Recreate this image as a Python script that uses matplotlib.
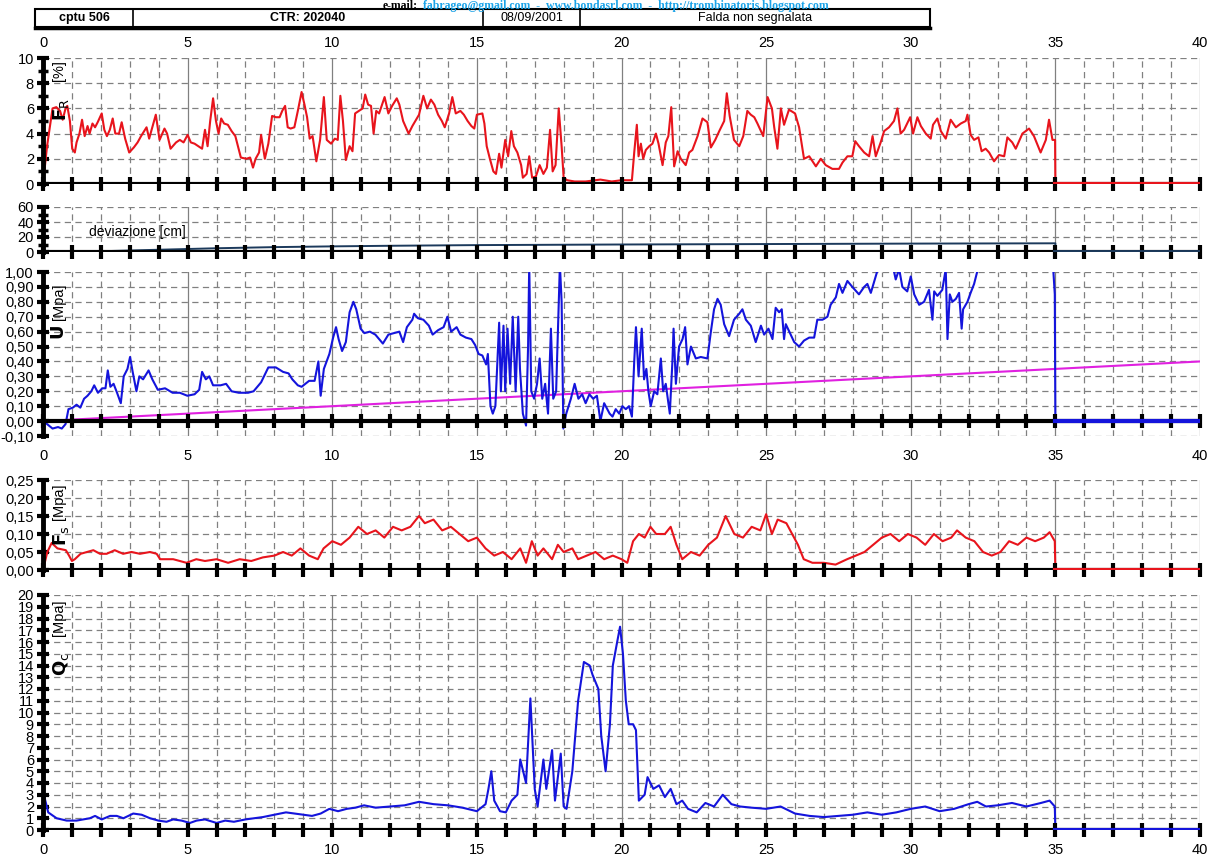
import numpy as np
import matplotlib.pyplot as plt

plt.rcParams['font.family'] = ['Liberation Sans', 'DejaVu Sans']

# ---- data (depth in m) ----
fr_depth = [0, 0.14, 0.33, 0.46, 0.59, 0.68, 0.78, 0.84, 0.93, 1.01, 1.10, 1.16, 1.26, 1.35, 1.44,
            1.54, 1.61, 1.71, 1.80, 1.89, 2.03, 2.12, 2.21, 2.31, 2.41, 2.50, 2.63, 2.72, 2.84, 2.98,
            3.14, 3.27, 3.39, 3.58, 3.67, 3.78, 3.90, 4.03, 4.20, 4.29, 4.41, 4.60, 4.73, 4.86, 5.00,
            5.11, 5.24, 5.37, 5.50, 5.60, 5.69, 5.78, 5.88, 5.98, 6.07, 6.16, 6.26, 6.39, 6.52, 6.65,
            6.84, 7.03, 7.16, 7.26, 7.35, 7.47, 7.54, 7.67, 7.79, 7.92, 8.05, 8.18, 8.27, 8.37, 8.46,
            8.56, 8.69, 8.81, 8.94, 9.04, 9.13, 9.22, 9.32, 9.45, 9.58, 9.71, 9.81, 9.96, 10.09, 10.19,
            10.28, 10.37, 10.47, 10.60, 10.70, 10.79, 10.92, 11.05, 11.14, 11.24, 11.34, 11.43, 11.52,
            11.62, 11.81, 11.94, 12.07, 12.23, 12.32, 12.45, 12.64, 12.77, 12.90, 13.00, 13.15, 13.28,
            13.41, 13.53, 13.66, 13.79, 13.89, 14.04, 14.15, 14.27, 14.43, 14.55, 14.68, 14.81, 14.91,
            15.00, 15.19, 15.26, 15.34, 15.45, 15.57, 15.66, 15.77, 15.85, 15.98, 16.08, 16.19, 16.28,
            16.40, 16.53, 16.59, 16.72, 16.81, 16.91, 17.04, 17.17, 17.30, 17.42, 17.53, 17.62, 17.72,
            17.83, 17.93, 18.00, 18.12, 18.38, 18.76, 19.27, 19.66, 20.00, 20.36, 20.44, 20.53, 20.59,
            20.67, 20.75, 20.84, 20.96, 21.07, 21.19, 21.28, 21.42, 21.53, 21.62, 21.72, 21.82, 21.94,
            22.05, 22.22, 22.34, 22.45, 22.63, 22.80, 22.97, 23.09, 23.24, 23.38, 23.55, 23.64, 23.74,
            23.89, 24.07, 24.21, 24.35, 24.47, 24.59, 24.70, 24.90, 25.05, 25.20, 25.28, 25.39, 25.51,
            25.62, 25.79, 26.00, 26.14, 26.31, 26.49, 26.72, 26.89, 27.06, 27.29, 27.52, 27.64, 27.81,
            27.98, 28.08, 28.21, 28.39, 28.56, 28.68, 28.79, 28.96, 29.08, 29.25, 29.42, 29.54, 29.65,
            29.77, 29.98, 30.08, 30.23, 30.35, 30.52, 30.69, 30.77, 30.92, 31.04, 31.21, 31.38, 31.56,
            31.73, 31.90, 31.96, 32.07, 32.19, 32.34, 32.45, 32.59, 32.71, 32.88, 33.05, 33.23, 33.34,
            33.51, 33.63, 33.86, 34.09, 34.26, 34.49, 34.67, 34.78, 34.90, 34.99, 35.0]
fr_value = [0, 3.0, 6.0, 6.1, 5.8, 5.1, 6.0, 6.2, 5.0, 2.8, 2.5, 3.3, 4.0, 5.1, 3.8,
            4.6, 4.0, 4.8, 4.5, 4.9, 5.6, 4.3, 3.8, 4.3, 5.2, 4.0, 4.0, 4.9, 3.6, 2.5,
            2.9, 3.3, 3.8, 4.5, 3.6, 4.5, 5.5, 3.5, 4.4, 4.0, 2.8, 3.3, 3.5, 3.3, 3.9,
            3.3, 3.2, 3.0, 2.8, 4.3, 3.0, 5.0, 6.8, 5.0, 4.0, 5.2, 4.8, 4.7, 4.2, 3.8,
            2.1, 2.0, 2.1, 1.3, 2.0, 2.5, 3.9, 2.0, 3.2, 5.4, 5.3, 5.3, 5.8, 6.2, 4.5,
            4.4, 4.5, 5.8, 7.3, 6.3, 5.3, 3.6, 3.8, 1.8, 3.5, 6.9, 3.5, 3.2, 3.6, 3.5,
            7.0, 5.0, 1.9, 3.0, 2.6, 5.6, 5.8, 6.0, 7.1, 6.3, 6.2, 4.0, 5.8,
            5.6, 6.9, 5.6, 6.2, 6.8, 6.3, 5.0, 4.0, 4.6, 5.1, 5.5, 7.0, 6.0,
            6.7, 6.3, 5.5, 5.0, 4.5, 5.6, 6.9, 5.6, 5.8, 5.5, 5.0, 4.6, 4.4,
            5.5, 5.6, 4.8, 3.0, 2.0, 1.0, 0.8, 2.4, 1.3, 3.5, 2.2, 4.2, 3.0,
            2.5, 1.5, 0.5, 0.8, 2.2, 0.5, 0.6, 1.5, 0.8, 1.3, 4.3, 1.0, 1.5,
            6.0, 3.0, 0.5, 0.3, 0.2, 0.2, 0.35, 0.2, 0.3, 0.3, 2.5, 4.7, 2.2,
            3.2, 2.0, 2.7, 3.0, 3.2, 4.0, 3.2, 1.5, 3.3, 3.8, 6.1, 1.4, 2.6,
            2.0, 1.5, 2.5, 2.7, 3.8, 5.2, 4.9, 2.9, 3.5, 4.2, 5.0, 7.2, 5.4,
            3.5, 3.0, 3.8, 5.8, 5.5, 5.3, 4.8, 3.8, 6.9, 6.0, 4.5, 2.8, 6.0,
            4.7, 5.9, 5.6, 4.5, 2.0, 2.2, 1.4, 2.0, 1.5, 1.2, 1.2, 1.7, 2.2,
            2.2, 3.4, 3.0, 2.5, 2.2, 3.8, 2.2, 3.3, 4.2, 4.5, 5.0, 6.0, 4.0,
            4.3, 5.3, 4.0, 5.3, 4.6, 4.0, 3.6, 4.7, 5.2, 4.2, 3.6, 5.1, 4.5,
            4.8, 5.0, 5.5, 3.9, 3.5, 3.7, 2.6, 2.8, 2.5, 1.8, 2.3, 2.2, 3.7,
            3.3, 2.8, 4.0, 4.4, 3.8, 2.5, 3.5, 5.1, 3.5, 3.5, 0.0]

dev_depth = [0, 2, 4, 6, 8, 10, 12, 15, 20, 25, 30, 35, 35.0]
dev_value = [0, 1, 3, 5, 6.5, 7.5, 8.3, 9.2, 10.0, 10.6, 11.2, 11.6, 0]

u_depth = [0, 0.14, 0.33, 0.52, 0.65, 0.78, 0.88, 1.03, 1.16, 1.29, 1.42, 1.54, 1.67, 1.77, 1.90,
           2.05, 2.16, 2.24, 2.33, 2.44, 2.56, 2.69, 2.79, 2.92, 3.01, 3.10, 3.23, 3.33, 3.46, 3.65,
           3.78, 3.97, 4.22, 4.48, 4.73, 4.99, 5.24, 5.40, 5.50, 5.63, 5.75, 5.88, 6.14, 6.33, 6.52,
           6.77, 7.09, 7.28, 7.54, 7.79, 8.05, 8.30, 8.49, 8.62, 8.81, 8.94, 9.20, 9.39, 9.52, 9.60,
           9.71, 9.90, 10.03, 10.13, 10.22, 10.34, 10.47, 10.60, 10.73, 10.83, 10.98, 11.11, 11.30,
           11.49, 11.75, 11.94, 12.13, 12.32, 12.45, 12.58, 12.77, 12.83, 12.96, 13.15, 13.34, 13.47,
           13.66, 13.85, 13.98, 14.11, 14.30, 14.43, 14.62, 14.81, 14.94, 15.06, 15.19, 15.32, 15.38,
           15.47, 15.55, 15.64, 15.77, 15.83, 15.92, 15.98, 16.06, 16.15, 16.24, 16.34, 16.43, 16.49,
           16.59, 16.70, 16.77, 16.81, 16.88, 16.98, 17.08, 17.17, 17.26, 17.36, 17.46, 17.56, 17.64,
           17.74, 17.87, 17.93, 17.99, 18.09, 18.25, 18.38, 18.51, 18.64, 18.76, 18.89, 19.02, 19.15,
           19.27, 19.40, 19.59, 19.69, 19.80, 19.92, 20.03, 20.15, 20.26, 20.36, 20.44, 20.50, 20.59,
           20.70, 20.78, 20.86, 20.93, 21.01, 21.13, 21.24, 21.36, 21.44, 21.53, 21.67, 21.76, 21.80,
           21.88, 21.99, 22.11, 22.20, 22.28, 22.40, 22.57, 22.74, 22.97, 23.09, 23.20, 23.32, 23.43,
           23.55, 23.72, 23.89, 24.07, 24.18, 24.30, 24.47, 24.64, 24.82, 24.93, 25.08, 25.22, 25.33,
           25.45, 25.54, 25.62, 25.68, 25.85, 25.97, 26.14, 26.31, 26.49, 26.66, 26.77, 26.95, 27.12,
           27.23, 27.41, 27.52, 27.64, 27.81, 27.98, 28.21, 28.39, 28.50, 28.62, 28.79, 28.91, 29.37,
           29.48, 29.60, 29.71, 29.88, 30.00, 30.12, 30.29, 30.46, 30.63, 30.75, 30.81, 30.92, 31.09,
           31.21, 31.27, 31.35, 31.44, 31.56, 31.67, 31.76, 31.81, 31.96, 32.07, 32.19, 32.36, 33.0,
           34.0, 34.9, 34.98, 35.0]
u_value = [0.0, -0.02, -0.05, -0.04, -0.05, -0.02, 0.08, 0.09, 0.11, 0.09, 0.15, 0.17, 0.20, 0.24, 0.19,
           0.22, 0.22, 0.34, 0.23, 0.25, 0.19, 0.12, 0.30, 0.35, 0.43, 0.33, 0.20, 0.30, 0.28, 0.34,
           0.28, 0.21, 0.22, 0.19, 0.19, 0.17, 0.18, 0.21, 0.33, 0.28, 0.30, 0.24, 0.24, 0.25, 0.20,
           0.19, 0.19, 0.20, 0.26, 0.36, 0.36, 0.33, 0.32, 0.28, 0.24, 0.23, 0.27, 0.27, 0.40, 0.17,
           0.35, 0.45, 0.56, 0.63, 0.55, 0.47, 0.53, 0.73, 0.80, 0.75, 0.62, 0.59, 0.60,
           0.58, 0.52, 0.58, 0.59, 0.60, 0.53, 0.63, 0.68, 0.72, 0.69, 0.68, 0.64, 0.58,
           0.61, 0.63, 0.70, 0.60, 0.63, 0.58, 0.56, 0.55, 0.51, 0.45, 0.44, 0.38, 0.45,
           0.10, 0.05, 0.10, 0.66, 0.20, 0.64, 0.20, 0.62, 0.25, 0.70, 0.20, 0.70, 0.35,
           0.05, -0.03, 0.50, 1.05, 0.20, 0.15, 0.25, 0.42, 0.15, 0.25, 0.05, 0.62, 0.15,
           0.20, 1.05, 0.80, -0.05, 0.05, 0.15, 0.25, 0.15, 0.18, 0.12, 0.18, 0.15, 0.17,
           0.0, 0.12, 0.05, 0.03, 0.08, 0.05, 0.10, 0.08, 0.10, 0.03, 0.40, 0.63, 0.30,
           0.62, 0.28, 0.35, 0.20, 0.10, 0.20, 0.18, 0.42, 0.20, 0.25, 0.05, 0.40, 0.62,
           0.25, 0.50, 0.55, 0.63, 0.38, 0.50, 0.42, 0.43, 0.42, 0.60, 0.75, 0.82, 0.78,
           0.65, 0.57, 0.68, 0.72, 0.75, 0.68, 0.64, 0.53, 0.64, 0.58, 0.62, 0.55, 0.76,
           0.73, 0.75, 0.55, 0.65, 0.58, 0.53, 0.50, 0.54, 0.56, 0.56, 0.68, 0.68, 0.70,
           0.78, 0.83, 0.92, 0.86, 0.94, 0.90, 0.85, 0.90, 0.92, 0.86, 0.97, 1.05, 1.05,
           0.95, 1.02, 0.90, 0.87, 0.97, 0.85, 0.78, 0.80, 0.88, 0.68, 0.87, 0.84, 0.88,
           1.02, 0.55, 0.85, 0.80, 0.82, 0.86, 0.62, 0.75, 0.80, 0.86, 0.92, 1.05, 1.1,
           1.1, 1.1, 0.85, 0.0]

# hydrostatic reference line
u0_depth = [0, 40]
u0_value = [0.0, 0.40]

fs_depth = [0, 0.15, 0.3, 0.5, 0.79, 0.9, 1.0, 1.1, 1.3, 1.74, 1.97, 2.2, 2.48, 2.77, 3.06, 3.35,
            3.7, 3.93, 4.05, 4.5, 4.96, 5.3, 5.6, 6.0, 6.4, 6.8, 7.2, 7.6, 8.0, 8.3, 8.6,
            8.9, 9.2, 9.5, 9.7, 10.0, 10.3, 10.6, 10.9, 11.2, 11.5, 11.8, 12.1, 12.4, 12.7, 13.0,
            13.2, 13.5, 13.8, 14.1, 14.4, 14.7, 15.0, 15.3, 15.6, 15.9, 16.2, 16.5, 16.7, 16.9,
            17.1, 17.3, 17.6, 17.8, 18.0, 18.3, 18.5, 18.8, 19.1, 19.4, 19.7, 20.0, 20.2, 20.4,
            20.6, 20.8, 21.0, 21.2, 21.5, 21.7, 21.9, 22.1, 22.4, 22.7, 23.0, 23.3, 23.6, 23.9,
            24.2, 24.5, 24.8, 25.0, 25.2, 25.4, 25.7, 25.9, 26.1, 26.3, 26.6, 27.0, 27.4, 27.8,
            28.1, 28.4, 28.7, 29.0, 29.3, 29.6, 29.9, 30.2, 30.5, 30.8, 31.1, 31.4, 31.6, 31.9,
            32.2, 32.5, 32.8, 33.1, 33.4, 33.7, 34.0, 34.3, 34.6, 34.8, 34.98, 35.0]
fs_value = [0, 0.05, 0.075, 0.06, 0.055, 0.04, 0.025, 0.03, 0.045, 0.055, 0.045, 0.045, 0.055,
            0.045, 0.05, 0.045, 0.05, 0.045, 0.03, 0.03, 0.02, 0.03, 0.025, 0.03,
            0.02, 0.03, 0.025, 0.035, 0.04, 0.05, 0.04, 0.06, 0.04, 0.03, 0.06, 0.08, 0.07, 0.09,
            0.12, 0.10, 0.11, 0.09, 0.12, 0.11, 0.12, 0.15, 0.13, 0.14, 0.11, 0.12, 0.10, 0.08,
            0.09, 0.06, 0.04, 0.05, 0.03, 0.06, 0.02, 0.08, 0.04, 0.06, 0.03, 0.07, 0.05, 0.06,
            0.03, 0.04, 0.05, 0.03, 0.04, 0.03, 0.02, 0.08, 0.10, 0.09, 0.12, 0.10, 0.10, 0.12,
            0.07, 0.03, 0.05, 0.04, 0.07, 0.09, 0.15, 0.10, 0.09, 0.12, 0.11, 0.155, 0.10, 0.14,
            0.13, 0.10, 0.07, 0.03, 0.02, 0.02, 0.015, 0.03, 0.04, 0.05, 0.07, 0.09, 0.10, 0.08,
            0.10, 0.09, 0.07, 0.10, 0.08, 0.09, 0.11, 0.09, 0.08, 0.05, 0.04, 0.05, 0.08, 0.07,
            0.09, 0.08, 0.09, 0.105, 0.08, 0.0]

qc_depth = [0, 0.05, 0.18, 0.47, 0.82, 1.16, 1.39, 1.62, 1.8, 2.03, 2.32, 2.55, 2.78, 3.12, 3.41,
            3.7, 3.99, 4.27, 4.5, 4.79, 5.08, 5.31, 5.6, 6.0, 6.3, 6.6, 7.0, 7.3, 7.6, 8.0, 8.4,
            8.7, 9.0, 9.3, 9.6, 9.9, 10.2, 10.5, 10.8, 11.1, 11.5, 12.0, 12.5, 13.0, 13.5, 14.0,
            14.5, 15.0, 15.3, 15.4, 15.5, 15.6, 15.8, 16.0, 16.2, 16.4, 16.5, 16.7, 16.85, 17.0,
            17.1, 17.3, 17.4, 17.6, 17.7, 17.9, 18.0, 18.1, 18.3, 18.5, 18.7, 18.9, 19.0, 19.2,
            19.3, 19.45, 19.6, 19.7, 19.85, 19.95, 20.05, 20.15, 20.25, 20.4, 20.5, 20.6, 20.8,
            20.9, 21.1, 21.3, 21.5, 21.7, 21.9, 22.1, 22.3, 22.6, 22.9, 23.2, 23.5, 23.8, 24.1,
            24.5, 25.0, 25.5, 26.0, 26.5, 27.0, 27.5, 28.0, 28.5, 29.0, 29.5, 30.0, 30.5, 31.0,
            31.5, 32.0, 32.3, 32.6, 33.0, 33.5, 34.0, 34.5, 34.8, 34.98, 35.0]
qc_value = [2.0, 2.8, 1.5, 1.0, 0.8, 0.8, 0.9, 1.0, 1.2, 0.9, 1.2, 1.2, 1.0, 1.4, 1.3,
            1.0, 0.8, 0.7, 0.9, 0.8, 0.6, 0.8, 0.9, 0.6, 0.8, 0.7, 0.9, 1.0, 1.1, 1.3, 1.5,
            1.4, 1.3, 1.2, 1.4, 1.8, 1.6, 1.8, 1.9, 2.1, 1.9, 2.0, 2.1, 2.4, 2.2, 2.1,
            1.9, 1.6, 2.2, 3.5, 5.0, 2.5, 1.6, 1.5, 2.5, 3.0, 6.0, 4.0, 11.2, 3.5,
            2.0, 6.0, 3.5, 6.8, 2.5, 6.5, 2.0, 1.8, 5.0, 11.0, 14.3, 14.0, 13.2, 12.0,
            8.0, 5.0, 9.0, 14.0, 16.0, 17.3, 15.0, 11.0, 9.0, 9.0, 8.5, 2.5, 3.0,
            4.5, 3.5, 3.8, 2.8, 3.5, 2.2, 2.5, 1.8, 1.5, 2.3, 2.0, 3.0, 2.2, 2.0,
            1.9, 1.8, 2.0, 1.4, 1.2, 1.1, 1.2, 1.3, 1.5, 1.3, 1.5, 1.8, 2.0, 1.6,
            1.8, 2.2, 2.4, 2.0, 2.1, 2.3, 2.0, 2.3, 2.5, 2.0, 0.0]

# below the end of the test everything is flat at zero
tail_depth = [35, 40]
tail_value = [0, 0]

RED = '#e8141c'
BLUE = '#1414dc'
NAVY = '#1c3a5c'
MAGENTA = '#e020e0'
GRID = '#808080'

fig = plt.figure(figsize=(12.15, 8.58), dpi=100)
W, H = 1215.0, 858.0


def px_axes(top, bottom):
    return fig.add_axes([43 / W, 1 - bottom / H, (1200 - 43) / W, (bottom - top) / H])


def setup(ax, ymin, ymax, ystep, minor=None, fmt='{:g}', axis_y=0.0):
    ax.set_xlim(0, 40)
    ax.set_ylim(ymin, ymax)
    for s in ['top', 'right', 'bottom']:
        ax.spines[s].set_visible(False)
    ax.spines['left'].set_linewidth(3.5)
    ax.spines['left'].set_zorder(6)
    for d in range(41):
        if d % 5 == 0:
            ax.axvline(d, color=GRID, lw=0.9, zorder=0)
        else:
            ax.axvline(d, color=GRID, lw=0.9, ls=(0, (5, 3.5)), zorder=0)
    yt = np.round(np.arange(ymin, ymax + ystep / 2, ystep), 4)
    for y in yt:
        ax.axhline(y, color=GRID, lw=0.9, ls=(0, (5, 3.5)), zorder=0)
    ax.set_yticks(yt)
    ax.set_yticklabels([fmt.format(v).replace('.', ',') for v in yt])
    if minor is not None:
        ax.set_yticks(np.arange(ymin, ymax + minor / 2, minor), minor=True)
    ax.tick_params(axis='y', which='both', direction='inout', length=9, width=3, labelsize=10.5, pad=2)
    ax.tick_params(axis='y', which='minor', length=7, width=2.5)
    # black depth axis with a tick at every metre
    ax.axhline(axis_y, color='k', lw=3, zorder=4)
    ticks = np.arange(41)
    ax.plot(ticks, np.full(41, axis_y), ls='none', marker='|', ms=10, mew=3, color='k', zorder=5,
            clip_on=False)
    ax.set_xticks(np.arange(0, 41, 5))
    ax.tick_params(axis='x', length=0, labelsize=10.5, labelbottom=False)


LW = 1.5

# FR panel
ax1 = px_axes(58, 184)
setup(ax1, 0, 10, 2, minor=1)
ax1.plot(fr_depth, fr_value, color=RED, lw=LW, zorder=3)
ax1.plot(tail_depth, tail_value, color=RED, lw=3, zorder=5)
ax1.tick_params(axis='x', labeltop=True, pad=6)

# deviation panel
ax2 = px_axes(207, 252)
setup(ax2, 0, 60, 20, minor=10)
ax2.plot(dev_depth, dev_value, color=NAVY, lw=1.4, zorder=3)
ax2.plot(tail_depth, tail_value, color=NAVY, lw=3.5, zorder=5)
ax2.text(1.6, 27, 'deviazione [cm]', fontsize=10, ha='left', va='center', zorder=3)

# U panel
ax3 = px_axes(272, 436)
setup(ax3, -0.10, 1.00, 0.10, fmt='{:.2f}', axis_y=0.0)
ax3.plot(u0_depth, u0_value, color=MAGENTA, lw=LW, zorder=3)
ax3.plot(u_depth, u_value, color=BLUE, lw=LW, zorder=3)
ax3.plot(tail_depth, tail_value, color=BLUE, lw=3, zorder=5)
ax3.tick_params(axis='x', labelbottom=True, pad=9)

# Fs panel
ax4 = px_axes(480, 570)
setup(ax4, 0, 0.25, 0.05, fmt='{:.2f}')
ax4.plot(fs_depth, fs_value, color=RED, lw=LW, zorder=3)
ax4.plot(tail_depth, tail_value, color=RED, lw=3, zorder=5)

# Qc panel
ax5 = px_axes(595, 830)
setup(ax5, 0, 20, 1)
ax5.plot(qc_depth, qc_value, color=BLUE, lw=LW, zorder=3)
ax5.plot(tail_depth, tail_value, color=BLUE, lw=3, zorder=5)
ax5.tick_params(axis='x', labelbottom=True, pad=9)


# rotated axis titles inside the panels
def axis_title(main, sub, unit, top_px, gap_px):
    y_unit = 1 - top_px / H
    fig.text(52 / W, y_unit, unit, rotation=90, fontsize=10.5, ha='left', va='top')
    label = r'$\mathbf{%s}_{\mathrm{%s}}$' % (main, sub) if sub else r'$\mathbf{%s}$' % main
    fig.text(51 / W, y_unit - gap_px / H, label, rotation=90, fontsize=13, ha='left', va='top')


axis_title('F', 'R', '[%]', 60, 38)
axis_title('U', '', '[Mpa]', 283, 42)
axis_title('F', 's', '[Mpa]', 484, 42)
axis_title('Q', 'c', '[Mpa]', 600, 52)

# header: web banner and info table
fig.text(418 / W, 1.0, 'e-mail:', fontsize=8.5, fontweight='bold', family='Liberation Serif',
         ha='right', va='top')
fig.text(423 / W, 1.0, 'fabrageo@gmail.com  -  www.bondasrl.com  -  http://trombinatoris.blogspot.com',
         fontsize=8.5, fontweight='bold', family='Liberation Serif', color='#1aa3e8',
         ha='left', va='top')

hdr = fig.add_axes([0, 0, 1, 1], facecolor='none')
hdr.set_xlim(0, W)
hdr.set_ylim(H, 0)
hdr.axis('off')
hdr.add_patch(plt.Rectangle((35, 9), 895, 18, fill=False, lw=1.5, ec='k'))
hdr.plot([35, 930], [27.5, 27.5], color='k', lw=2.5)
cells = [(35, 133, 'cptu 506', 'bold'), (133, 483, 'CTR: 202040', 'bold'),
         (483, 580, '08/09/2001', 'normal'), (580, 930, 'Falda non segnalata', 'normal')]
for x0, x1, txt, wt in cells:
    if x0 > 35:
        hdr.plot([x0, x0], [9, 27], color='k', lw=1.2)
    hdr.text((x0 + x1) / 2, 18, txt, fontsize=9, fontweight=wt, ha='center', va='center')

fig.savefig('out.png', dpi=100)
